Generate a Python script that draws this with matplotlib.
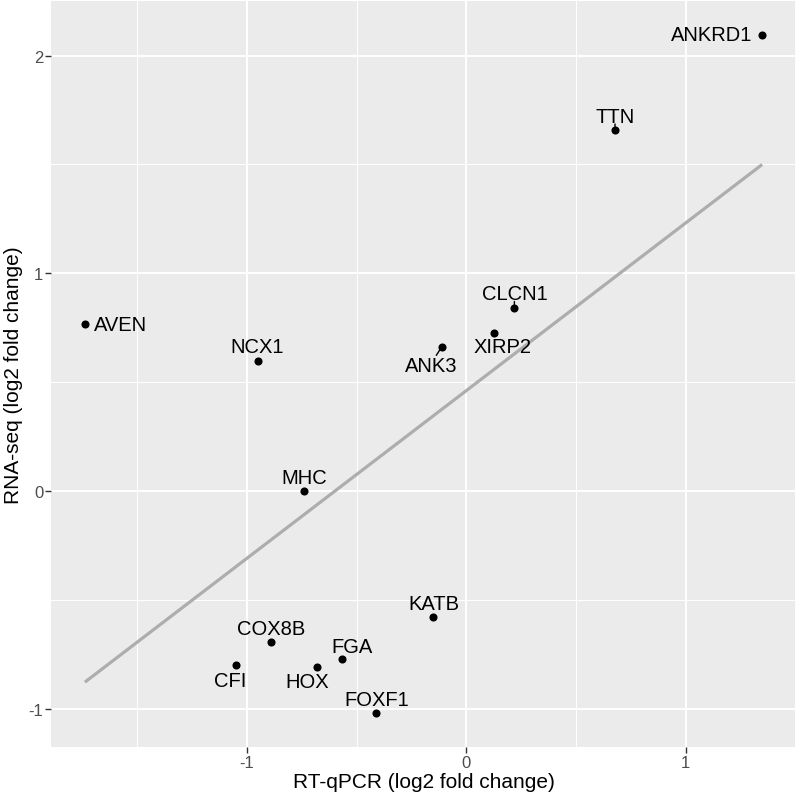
import numpy as np
import matplotlib
matplotlib.use("Agg")
from matplotlib import pyplot as plt

genes = ["AVEN", "NCX1", "ANK3", "XIRP2", "CLCN1", "MHC", "KATB", "COX8B",
         "FGA", "HOX", "CFI", "FOXF1", "ANKRD1", "TTN"]
qpcr = [-1.740, -0.950, -0.112, 0.127, 0.219, -0.741, -0.150, -0.889,
        -0.569, -0.681, -1.050, -0.410, 1.349, 0.678]
rnaseq = [0.766, 0.599, 0.663, 0.728, 0.840, 0.002, -0.580, -0.694,
          -0.771, -0.806, -0.799, -1.019, 2.095, 1.657]

# label offsets in pixels (ggrepel-ish placement), dy positive = up
label_off = {
    "AVEN": (36, 0), "NCX1": (-1, 14), "ANK3": (-11, -19), "XIRP2": (8, -14),
    "CLCN1": (0, 15), "MHC": (0, 13), "KATB": (0, 14), "COX8B": (0, 14),
    "FGA": (10, 13), "HOX": (-10, -15), "CFI": (-6, -15), "FOXF1": (0, 14),
    "ANKRD1": (-50, 0), "TTN": (0, 14),
}
with_segment = ["ANK3", "CLCN1", "TTN"]

plt.rcParams["font.family"] = ["Liberation Sans", "DejaVu Sans"]
plt.rcParams["axes.unicode_minus"] = False

x = np.array(qpcr)
y = np.array(rnaseq)

fig = plt.figure(figsize=(8, 8.03), dpi=100)
ax = fig.add_axes([51 / 800, 55 / 803, 745 / 800, 746 / 803])
ax.set_facecolor("#EBEBEB")
for s in ax.spines.values():
    s.set_visible(False)

# ggplot-style expansion of 5%
xr = x.max() - x.min()
yr = y.max() - y.min()
ax.set_xlim(x.min() - 0.05 * xr, x.max() + 0.05 * xr)
ax.set_ylim(y.min() - 0.05 * yr, y.max() + 0.05 * yr)

ax.set_xticks([-1, 0, 1])
ax.set_yticks([-1, 0, 1, 2])
ax.set_xticks([-1.5, -0.5, 0.5, 1.5], minor=True)
ax.set_yticks([-0.5, 0.5, 1.5], minor=True)
ax.grid(True, which="major", color="white", lw=1.4)
ax.grid(True, which="minor", color="white", lw=0.7)
ax.set_axisbelow(True)
ax.tick_params(which="major", length=4, width=1, color="#333333",
               labelsize=12, labelcolor="#4D4D4D", pad=1.5)
ax.tick_params(which="minor", length=0)

# linear fit, like geom_smooth(method = "lm", se = FALSE)
slope, icept = np.polyfit(x, y, 1)
xf = np.array([x.min(), x.max()])
ax.plot(xf, icept + slope * xf, color="#ADADAD", lw=2.3, zorder=2,
        solid_capstyle="butt")

ax.scatter(x, y, s=34, color="black", zorder=3, linewidths=0)

for g, xi, yi in zip(genes, x, y):
    dx, dy = label_off[g]
    ax.annotate(g, (xi, yi), xytext=(dx, dy), textcoords="offset pixels",
                ha="center", va="center", fontsize=14.5, color="black",
                zorder=4)
    if g in with_segment:
        ax.annotate("", (xi, yi), xytext=(dx * 0.5, dy * 0.45),
                    textcoords="offset pixels",
                    arrowprops=dict(arrowstyle="-", color="black", lw=1,
                                    shrinkA=0, shrinkB=0))

ax.set_xlabel("RT-qPCR (log2 fold change)", fontsize=15, labelpad=2)
ax.set_ylabel("RNA-seq (log2 fold change)", fontsize=15, labelpad=4)

fig.savefig("out.png", dpi=100)
